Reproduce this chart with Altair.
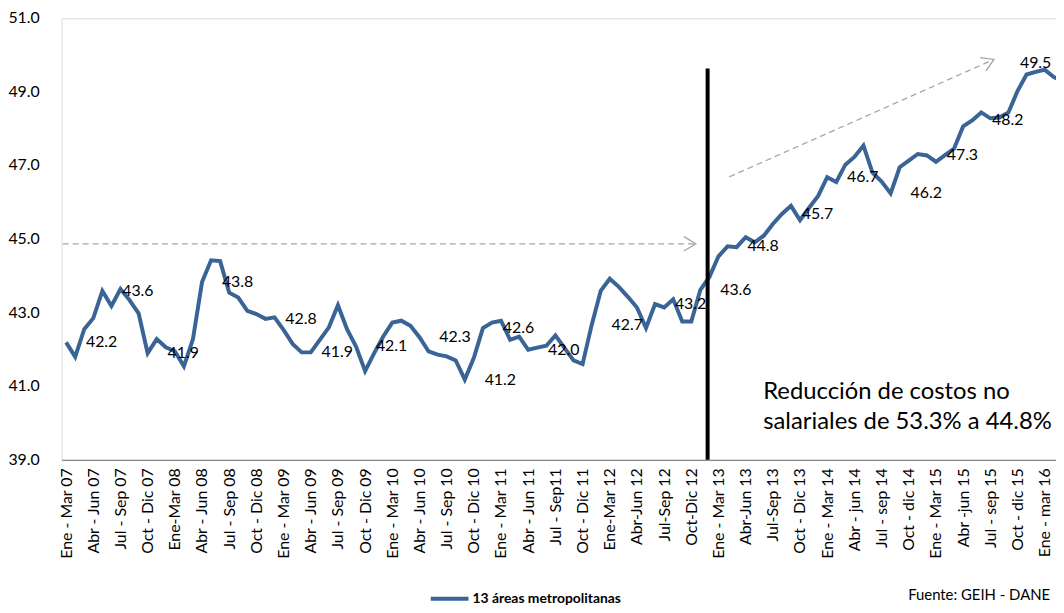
import math
import altair as alt
import pandas as pd

# ---------------- data ----------------
series_name = "13 áreas metropolitanas"

values = [
    42.19, 41.80, 42.55, 42.85, 43.59, 43.18, 43.64, 43.34, 42.98, 41.90,
    42.28, 42.06, 41.95, 41.54, 42.28, 43.83, 44.42, 44.40, 43.54, 43.41,
    43.05, 42.96, 42.83, 42.87, 42.53, 42.15, 41.92, 41.92, 42.26, 42.60,
    43.20, 42.55, 42.08, 41.41, 41.90, 42.35, 42.73, 42.78, 42.64, 42.33,
    41.95, 41.86, 41.81, 41.70, 41.18, 41.77, 42.58, 42.73, 42.78, 42.26,
    42.35, 41.99, 42.05, 42.10, 42.38, 42.04, 41.70, 41.60, 42.66, 43.59,
    43.92, 43.70, 43.43, 43.14, 42.58, 43.23, 43.14, 43.36, 42.76, 42.76,
    43.62, 43.97, 44.53, 44.80, 44.78, 45.05, 44.91, 45.09, 45.41, 45.68,
    45.90, 45.51, 45.85, 46.17, 46.68, 46.55, 47.02, 47.23, 47.54, 46.80,
    46.56, 46.24, 46.95, 47.13, 47.31, 47.27, 47.10, 47.28, 47.46, 48.06,
    48.22, 48.44, 48.28, 48.30, 48.44, 49.02, 49.47, 49.54, 49.60, 49.40,
    49.30,
]
months = list(range(len(values)))

tick_labels = [
    "Ene - Mar 07", "Abr - Jun 07", "Jul - Sep 07", "Oct - Dic 07",
    "Ene-Mar 08", "Abr - Jun 08", "Jul - Sep 08", "Oct - Dic 08",
    "Ene - Mar  09", "Abr - Jun 09", "Jul - Sep 09", "Oct - Dic 09",
    "Ene - Mar 10", "Abr - Jun 10", "Jul - Sep 10", "Oct - Dic 10",
    "Ene - Mar 11", "Abr - Jun 11", "Jul - Sep11", "Oct - Dic 11",
    "Ene-Mar 12", "Abr-Jun 12", "Jul-Sep 12", "Oct-Dic 12",
    "Ene - Mar 13", "Abr-Jun 13", "Jul-Sep 13", "Oct - Dic 13",
    "Ene - Mar 14", "Abr - jun 14", "Jul - sep 14", "Oct - dic 14",
    "Ene - Mar 15", "Abr -jun 15", "Jul - sep 15", "Oct - dic 15",
    "Ene - mar 16",
]
tick_values = [3 * k for k in range(len(tick_labels))]
y_ticks = [39, 41, 43, 45, 47, 49, 51]

label_idx = [0, 4, 9, 15, 22, 26, 32, 39, 44, 46, 51, 58, 65, 70, 73, 79, 84, 91, 95, 100]
label_txt = ["42.2", "43.6", "41.9", "43.8", "42.8", "41.9", "42.1", "42.3", "41.2", "42.6",
             "42.0", "42.7", "43.2", "43.6", "44.8", "45.7", "46.7", "46.2", "47.3", "48.2"]
top_label_idx = [107]
top_label_txt = ["49.5"]

# annotation arrows (data coordinates)
arrow_x = [-0.37, 73.2]
arrow_x2 = [69.5, 102.4]
arrow_y = [44.87, 46.69]
arrow_y2 = [44.87, 49.88]

reform_x = [70.8]
reform_y = [39.0]
reform_y2 = [49.63]

note_text = ["Reducción de costos no", "salariales de 53.3% a 44.8%"]
source_text = "Fuente: GEIH - DANE"

# ---------------- layout ----------------
X_DOMAIN = [-0.5, 109.25]
Y_DOMAIN = [39, 51]
W, H = 1002, 445
FONT = "Lato"
LINE_COLOR = "#3A6396"
ARROW_COLOR = "#A6A6A6"

px_x = W / (X_DOMAIN[1] - X_DOMAIN[0])
px_y = H / (Y_DOMAIN[1] - Y_DOMAIN[0])

df = pd.DataFrame({"m": months, "v": values, "serie": series_name})
lab_df = pd.DataFrame({"m": label_idx, "v": [values[i] for i in label_idx], "t": label_txt})
top_df = pd.DataFrame({"m": top_label_idx, "v": [values[i] for i in top_label_idx], "t": top_label_txt})
ytick_df = pd.DataFrame({"v": y_ticks})

angles = []
for x1, x2, y1, y2 in zip(arrow_x, arrow_x2, arrow_y, arrow_y2):
    a = math.degrees(math.atan2(-(y2 - y1) * px_y, (x2 - x1) * px_x)) % 360
    angles.append(a)
arr_df = pd.DataFrame({"m": arrow_x, "mend": arrow_x2, "v": arrow_y, "vend": arrow_y2, "ang": angles})
head_df = pd.DataFrame({"m": arrow_x2, "v": arrow_y2, "ang": angles})
ref_df = pd.DataFrame({"m": reform_x, "v": reform_y, "vend": reform_y2})

label_js = "[" + ",".join("'" + s + "'" for s in tick_labels) + "]"

xs = alt.Scale(domain=X_DOMAIN, nice=False, zero=False)
ys = alt.Scale(domain=Y_DOMAIN, nice=False, zero=False)

AX_X = alt.Axis(
    values=tick_values, labelExpr=f"{label_js}[round(datum.value/3)]",
    labelAngle=270, labelAlign="right", labelBaseline="middle",
    labelFont=FONT, labelFontSize=16, labelColor="#000000",
    labelPadding=8, labelOverlap=False, labelBound=False, labelFlush=False,
    ticks=False, grid=False, domain=True, domainColor="#868686", domainWidth=1.2,
    title=None,
)


def X():
    return alt.X("m:Q", scale=xs, axis=AX_X, title=None)


def Y():
    return alt.Y("v:Q", scale=ys, axis=None, title=None)


line = alt.Chart(df).mark_line(strokeWidth=4, clip=True, strokeJoin="miter").encode(
    x=X(),
    y=Y(),
    color=alt.Color(
        "serie:N", scale=alt.Scale(range=[LINE_COLOR]),
        legend=alt.Legend(
            title=None, orient="none", legendX=370, legendY=564,
            symbolType="stroke", symbolSize=1444, symbolStrokeWidth=4,
            labelFont=FONT, labelFontSize=14, labelFontWeight="bold",
            labelColor="#000000", labelOffset=2, padding=0,
        ),
    ),
)

# y-axis labels placed through the y scale
ylabels = alt.Chart(ytick_df).mark_text(
    align="right", baseline="middle", font=FONT, fontSize=16, color="#000000"
).encode(x=alt.value(-22), y=Y(), text=alt.Text("v:Q", format=".1f"))

labels = alt.Chart(lab_df).mark_text(
    align="left", baseline="middle", dx=20, font=FONT, fontSize=16, color="#000000"
).encode(x=X(), y=Y(), text="t:N")

top_labels = alt.Chart(top_df).mark_text(
    align="center", baseline="bottom", dy=-1, font=FONT, fontSize=16, color="#000000"
).encode(x=X(), y=Y(), text="t:N")

arrows = alt.Chart(arr_df).mark_rule(
    strokeDash=[6, 4], strokeWidth=1.3, color=ARROW_COLOR
).encode(x=X(), x2="mend:Q", y=Y(), y2="vend:Q")

heads = alt.Chart(head_df).mark_point(
    shape="M -1 -0.6 L 0 0 L -1 0.6", size=576, filled=False,
    strokeWidth=1.3, color=ARROW_COLOR, opacity=1,
).encode(x=X(), y=Y(), angle=alt.Angle("ang:Q", scale=None))

reform = alt.Chart(ref_df).mark_rule(strokeWidth=4, color="#000000").encode(
    x=X(), y=Y(), y2="vend:Q"
)

note = alt.Chart(pd.DataFrame({"t": [note_text]})).mark_text(
    align="left", baseline="alphabetic", font=FONT, fontSize=24, lineHeight=30, color="#000000"
).encode(x=alt.value(707), y=alt.value(384), text="t")

source = alt.Chart(pd.DataFrame({"t": [source_text]})).mark_text(
    align="left", baseline="middle", font=FONT, fontSize=15, color="#000000"
).encode(x=alt.value(853), y=alt.value(581), text="t:N")

chart = (
    alt.layer(line, arrows, heads, reform, ylabels, labels, top_labels, note, source)
    .properties(
        width=W, height=H,
        autosize=alt.AutoSizeParams(type="none"),
        padding={"left": 54, "top": 8, "right": 0, "bottom": 144},
    )
    .configure_view(stroke="transparent", strokeWidth=0)
    .configure_axis(grid=False, ticks=False)
    .configure_axisY(domain=False, grid=False, ticks=False)
    .configure(background="#ffffff")
)

chart.save("out.html", embed_options={"renderer": "svg", "actions": False})
